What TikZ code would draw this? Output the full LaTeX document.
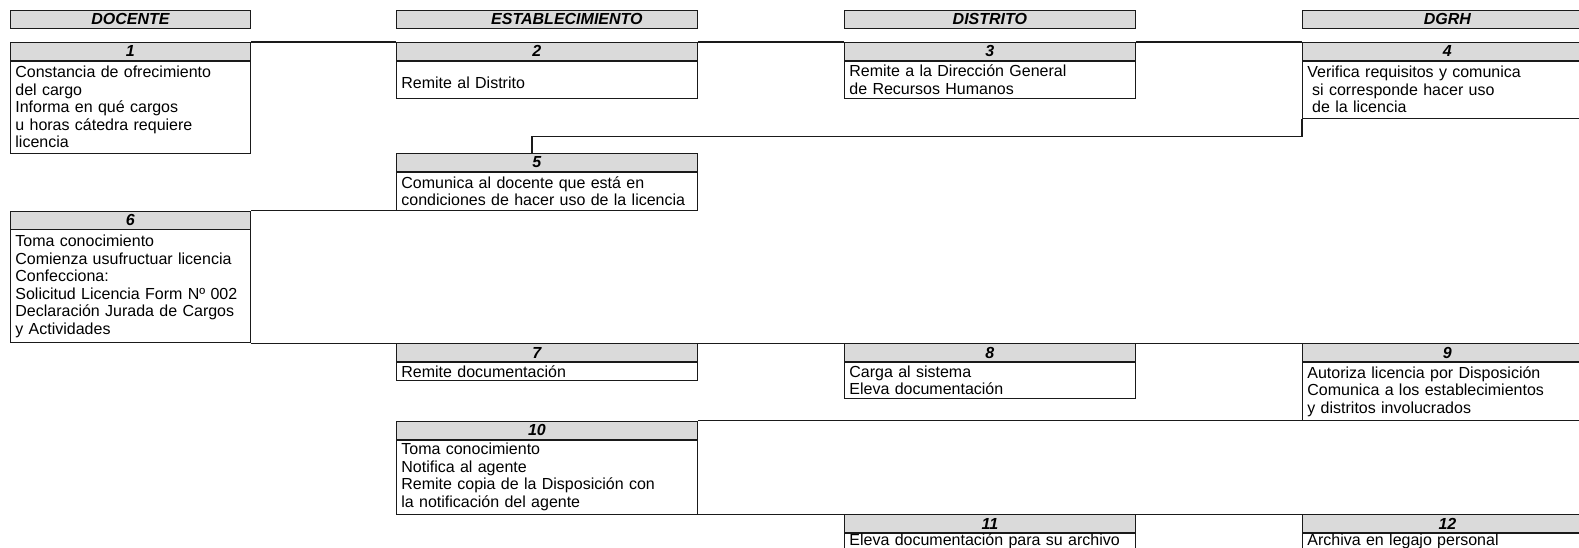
\documentclass[tikz,border=0pt]{standalone}
\usepackage{fontspec}
\setmainfont{Liberation Sans}
\usepackage{tikz}
\usepackage{xcolor}
\usetikzlibrary{positioning}
\definecolor{ink}{HTML}{1A1A1A}
\definecolor{headgray}{HTML}{DADADA}
\newcommand{\steptext}{\fontsize{16}{17.5}\selectfont}
\tikzset{
  lanehead/.style={draw=ink,fill=headgray,line width=0.8pt,
                   minimum width=#1,minimum height=18pt,inner sep=0pt,
                   anchor=north west,font=\steptext\bfseries\itshape},
  stephead/.style={draw=ink,fill=headgray,line width=0.8pt,
                   minimum width=#1,minimum height=18pt,inner sep=0pt,
                   anchor=north west,font=\steptext\bfseries\itshape},
  leftnum/.style={execute at end node={\hspace*{20pt}}},
  stepbody/.style={draw=ink,fill=white,line width=0.8pt,text width=#1,
                   inner xsep=5pt,inner ysep=1pt,align=left,font=\steptext},
  link/.style={draw=ink,line width=1.2pt}
}

\begin{document}
\begin{tikzpicture}[x=1pt,y=-1pt]
  \useasboundingbox (0,0) rectangle (1579,548);
  \clip (0,0) rectangle (1579,548);
  \node[lanehead=240pt] (docente) at (10,10) {DOCENTE};
  \node[lanehead=301pt] (estab) at (396,10) {\hspace*{40pt}ESTABLECIMIENTO};
  \node[lanehead=291pt] (distrito) at (844,10) {DISTRITO};
  \node[lanehead=290pt] (dgrh) at (1302,10) {DGRH};

  \node[stephead=240pt] (h1) at (10,42) {1};
  \node[stepbody=230pt,below=0pt of h1,minimum height=92pt] (b1)
    {Constancia de ofrecimiento\\del cargo\\Informa en qué cargos\\u horas cátedra requiere\\licencia};
  \node[stephead=301pt,leftnum] (h2) at (396,42) {2};
  \node[stepbody=291pt,below=0pt of h2,minimum height=37pt] (b2)
    {\mbox{}\\Remite al Distrito};
  \node[stephead=291pt] (h3) at (844,42) {3};
  \node[stepbody=281pt,below=0pt of h3,minimum height=37pt] (b3)
    {Remite a la Dirección General\\de Recursos Humanos};
  \node[stephead=290pt] (h4) at (1302,42) {4};
  \node[stepbody=280pt,below=0pt of h4,minimum height=57pt] (b4)
    {Verifica requisitos y comunica\\\hspace*{0.3em}si corresponde hacer uso\\\hspace*{0.3em}de la licencia};

  \node[stephead=301pt,leftnum] (h5) at (396,153) {5};
  \node[stepbody=291pt,below=0pt of h5,minimum height=38pt] (b5)
    {Comunica al docente que está en\\condiciones de hacer uso de la licencia};
  \node[stephead=240pt] (h6) at (10,0 |- b5.south) {6};
  \node[stepbody=230pt,below=0pt of h6,minimum height=113pt] (b6)
    {Toma conocimiento\\Comienza usufructuar licencia\\Confecciona:\\Solicitud Licencia Form Nº 002\\Declaración Jurada de Cargos\\y Actividades};

  \node[stephead=301pt,leftnum] (h7) at (396,0 |- b6.south) {7};
  \node[stepbody=291pt,below=0pt of h7,minimum height=18pt] (b7)
    {Remite documentación};
  \node[stephead=291pt] (h8) at (844,0 |- b6.south) {8};
  \node[stepbody=281pt,below=0pt of h8,minimum height=36pt] (b8)
    {Carga al sistema\\Eleva documentación};
  \node[stephead=290pt] (h9) at (1302,0 |- b6.south) {9};
  \node[stepbody=280pt,below=0pt of h9,minimum height=58pt] (b9)
    {Autoriza licencia por Disposición\\Comunica a los establecimientos\\y distritos involucrados};

  \node[stephead=301pt,leftnum] (h10) at (396,0 |- b9.south) {10};
  \node[stepbody=291pt,below=0pt of h10,minimum height=74pt] (b10)
    {Toma conocimiento\\Notifica al agente\\Remite copia de la Disposición con\\la notificación del agente};
  \node[stephead=291pt] (h11) at (844,0 |- b10.south) {11};
  \node[stepbody=281pt,below=0pt of h11,inner ysep=0pt,minimum height=16pt] (b11)
    {Eleva documentación para su archivo};
  \node[stephead=290pt] (h12) at (1302,0 |- b10.south) {12};
  \node[stepbody=280pt,below=0pt of h12,inner ysep=0pt,minimum height=16pt] (b12)
    {Archiva en legajo personal};

  \draw[link] (h1.north east) -- (h2.north west);
  \draw[link] (h2.north east) -- (h3.north west);
  \draw[link] (h3.north east) -- (h4.north west);
  \draw[link] (b4.south west) -- ++(0,18) -| ([xshift=-15pt]h5.north);
  \draw[link] (b5.south west) -- (h6.north east);
  \draw[link] (b6.south east) -- (h7.north west);
  \draw[link] (h7.north east) -- (h8.north west);
  \draw[link] (h8.north east) -- (h9.north west);
  \draw[link] (b9.south west) -- (h10.north east);
  \draw[link] (b10.south east) -- (h11.north west);
  \draw[link] (h11.north east) -- (h12.north west);
\end{tikzpicture}
\end{document}
